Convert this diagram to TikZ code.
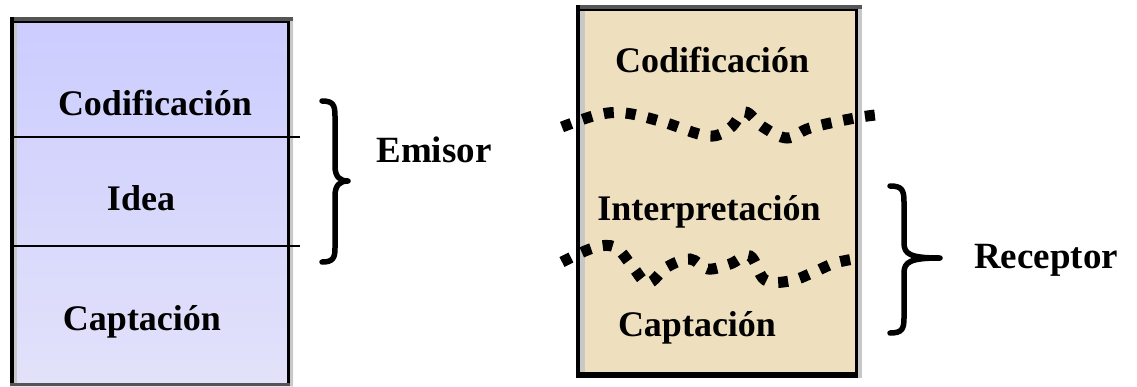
\documentclass[tikz,border=0pt]{standalone}
\usepackage{fontspec}
\setmainfont{Liberation Serif}
\begin{document}
\begin{tikzpicture}[x=1pt,y=-1pt,
  lbl/.style={font=\fontsize{36}{40}\selectfont\bfseries, inner sep=0pt, anchor=center},
  bracelbl/.style={font=\fontsize{37}{40}\selectfont\bfseries, inner sep=0pt, anchor=center},
  curly/.style={line width=5.5pt, line cap=round, line join=round},
  wavy/.style={line width=11pt, dash pattern=on 10pt off 12pt, line cap=butt}]
\definecolor{lavtop}{RGB}{204,204,255}
\definecolor{lavbot}{RGB}{226,226,250}
\definecolor{parch}{RGB}{238,224,190}
\definecolor{bevgrey}{RGB}{200,200,200}
\definecolor{bevdark}{RGB}{85,85,85}
\useasboundingbox (0,0) rectangle (1137,386);
% ---------- left box ----------
\shade[top color=lavtop, bottom color=lavbot] (10,17) rectangle (293,386);
\fill[bevdark] (10,17) rectangle (293,21);
\fill[black] (14,21) rectangle (290,23);
\fill[black] (10,17) rectangle (14,386);
\fill[bevgrey] (14,23) rectangle (17,383);
\fill[black] (287,21) rectangle (290,386);
\fill[bevgrey] (290,21) rectangle (293,386);
\fill[bevdark] (10,383) rectangle (290,386);
\draw[line width=1.2pt] (10,137) -- (300,137);
\draw[line width=1.2pt] (10,246) -- (300,246);
\node[lbl] (lcod) at (155,103) {Codificación};
\node[lbl] (lidea) at (141,198) {Idea};
\node[lbl] (lcap) at (142,322) {Captación};
% ---------- brace Emisor ----------
\draw[curly] (322,101) .. controls (333,101) and (335,105) .. (335,116)
  -- (335,166) .. controls (335,177) and (340,181) .. (348,181)
  .. controls (340,181) and (335,185) .. (335,196)
  -- (335,248) .. controls (335,258) and (333,262) .. (322,262);
\node[bracelbl] (emisor) at (434,150) {Emisor};
% ---------- right box ----------
\fill[parch] (577,5) rectangle (862,378);
\fill[bevdark] (577,5) rectangle (862,9);
\fill[black] (580,9) rectangle (858,11);
\fill[black] (576,5) rectangle (580,378);
\fill[bevgrey] (580,11) rectangle (585,372);
\fill[black] (855,9) rectangle (858,378);
\fill[bevgrey] (858,9) rectangle (862,378);
\fill[black] (576,372) rectangle (858,378);
\node[lbl] (rcod) at (712,60) {Codificación};
\node[lbl] (rint) at (709,212) {Interpretación};
\node[lbl] (rcap) at (697,328) {Captación};
\draw[wavy] plot[smooth, tension=0.6] coordinates {(562,127) (597,115) (625,113) (663,122) (708,136) (730,128) (745,112) (763,127) (787,138) (810,128) (855,118) (884,114)};
\draw[wavy] plot[smooth, tension=0.6] coordinates {(562,262) (593,248) (615,247) (632,266) (648,283) (667,267) (690,259) (708,269) (730,264) (750,256) (765,280) (790,281) (812,273) (835,263) (860,258)};
% ---------- brace Receptor ----------
\draw[curly] (890,186) .. controls (902,186) and (904,190) .. (904,202)
  -- (904,243) .. controls (904,254) and (910,258) .. (940,258)
  .. controls (910,258) and (904,262) .. (904,273)
  -- (904,318) .. controls (904,329) and (902,333) .. (890,333);
\node[bracelbl] (receptor) at (1046,260) {Receptor};
\end{tikzpicture}
\end{document}
